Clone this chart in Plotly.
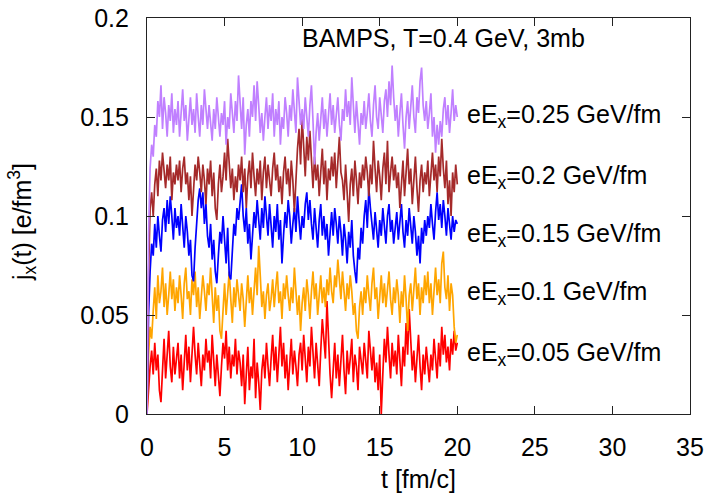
import numpy as np
import plotly.graph_objects as go

# time axis: 0 .. 20 fm/c in 0.1 steps
t = [round(i * 0.1, 1) for i in range(201)]

# values in units of 1e-3 e/fm^3
red = [
    0, 14, 24, 32, 20, 36, 22, 30, 12, 6, 26, 38, 18, 30, 42, 24, 16, 34, 20, 28,
    36, 18, 30, 12, 26, 40, 22, 34, 16, 28, 44, 30, 20, 36, 24, 14, 30, 22, 38, 26,
    32, 18, 40, 26, 14, 30, 20, 9, 24, 36, 28, 42, 22, 34, 18, 30, 24, 38, 20, 32,
    26, 14, 30, 5, 20, 34, 12, 24, 18, 38, 8, 26, 16, 2, 22, 30, 18, 36, 24, 14,
    28, 40, 22, 34, 16, 30, 44, 24, 36, 18, 30, 12, 26, 38, 20, 32, 24, 14, 30, 36,
    22, 40, 28, 16, 34, 24, 44, 30, 18, 36, 26, 14, 32, 48, 38, 28, 57, 34, 20, 8,
    24, 36, 18, 30, 14, 26, 40, 22, 10, 32, 20, 28, 38, 16, 30, 24, 12, 34, 26, 20,
    36, 28, 18, 42, 30, 22, 34, 16, 26, 12, 30, 0, 20, 38, 26, 44, 30, 18, 36, 24,
    32, 20, 40, 28, 14, 34, 24, 46, 30, 53, 38, 22, 32, 16, 28, 40, 24, 12, 30, 20,
    34, 26, 16, 30, 22, 38, 28, 18, 36, 24, 44, 30, 40, 26, 34, 22, 38, 30, 42, 32,
    36,
]
orange = [
    0, 30, 44, 38, 52, 64, 48, 70, 56, 62, 74, 54, 66, 50, 60, 72, 58, 68, 52, 64,
    56, 70, 60, 48, 66, 74, 58, 62, 50, 68, 60, 72, 54, 64, 48, 58, 70, 62, 52, 66,
    60, 74, 56, 46, 64, 52, 60, 42, 38, 56, 66, 50, 62, 72, 58, 46, 64, 54, 68, 60,
    52, 66, 58, 44, 60, 70, 56, 64, 50, 62, 74, 60, 85, 70, 54, 62, 48, 60, 66, 52,
    58, 68, 54, 64, 72, 56, 62, 48, 66, 58, 70, 60, 52, 64, 56, 74, 62, 50, 60, 42,
    56, 64, 52, 68, 60, 48, 62, 72, 58, 66, 50, 62, 70, 56, 64, 54, 68, 60, 74, 62,
    56, 70, 64, 78, 66, 58, 72, 60, 52, 66, 58, 70, 62, 50, 56, 42, 38, 54, 62, 50,
    64, 56, 70, 60, 52, 66, 74, 58, 64, 48, 60, 70, 56, 66, 54, 62, 72, 58, 50, 64,
    56, 68, 60, 46, 62, 54, 70, 58, 42, 60, 66, 52, 62, 74, 58, 66, 50, 64, 56, 70,
    60, 72, 56, 66, 50, 62, 74, 60, 68, 56, 76, 82, 64, 58, 70, 52, 66, 60, 44, 36,
    40,
]
blue = [
    0, 50, 72, 86, 80, 96, 84, 100, 90, 82, 98, 104, 92, 108, 96, 110, 100, 88, 104, 94,
    100, 90, 106, 96, 84, 100, 92, 80, 88, 70, 67, 84, 98, 108, 114, 104, 112, 96, 106, 90,
    84, 96, 78, 88, 72, 66, 80, 92, 86, 100, 88, 76, 94, 70, 68, 82, 96, 90, 104, 98,
    108, 116, 100, 92, 104, 86, 96, 78, 90, 102, 94, 108, 98, 88, 104, 94, 110, 98, 90, 106,
    96, 84, 100, 92, 106, 88, 98, 76, 90, 102, 94, 108, 100, 86, 96, 104, 92, 110, 98, 88,
    100, 94, 106, 112, 98, 108, 96, 88, 104, 92, 84, 98, 106, 90, 100, 88, 96, 80, 94, 102,
    90, 104, 96, 86, 100, 92, 80, 96, 88, 76, 92, 84, 98, 80, 72, 66, 84, 78, 94, 86,
    100, 108, 94, 114, 104, 96, 88, 102, 92, 84, 98, 90, 104, 94, 86, 100, 106, 92, 98, 86,
    94, 102, 88, 98, 106, 92, 84, 98, 90, 104, 96, 86, 100, 92, 80, 90, 76, 94, 86, 98,
    90, 100, 94, 106, 96, 88, 102, 112, 98, 106, 94, 108, 100, 90, 104, 96, 88, 100, 92, 98,
    96,
]
brown = [
    0, 70, 104, 112, 100, 116, 124, 110, 128, 118, 132, 122, 114, 126, 118, 130, 108, 122, 116, 126,
    118, 128, 112, 124, 130, 116, 122, 108, 120, 100, 114, 126, 118, 130, 122, 112, 126, 118, 106, 124,
    116, 128, 110, 122, 104, 98, 116, 126, 112, 120, 132, 118, 139, 126, 114, 124, 108, 120, 112, 126,
    118, 130, 112, 124, 104, 120, 128, 114, 132, 120, 110, 124, 116, 128, 108, 122, 130, 114, 126, 118,
    110, 124, 132, 118, 126, 112, 120, 106, 122, 130, 116, 124, 110, 128, 118, 102, 120, 134, 144, 126,
    150, 132, 120, 140, 128, 143, 124, 114, 130, 118, 126, 110, 122, 134, 116, 128, 108, 124, 118, 130,
    120, 132, 114, 126, 140, 122, 118, 108, 126, 112, 97, 116, 124, 110, 128, 118, 106, 122, 114, 126,
    118, 130, 122, 110, 126, 116, 138, 124, 112, 128, 120, 108, 124, 132, 116, 138, 112, 122, 130, 118,
    126, 114, 122, 104, 118, 128, 110, 122, 134, 116, 124, 106, 120, 130, 114, 102, 118, 126, 112, 122,
    116, 128, 110, 124, 132, 118, 126, 112, 130, 120, 139, 124, 114, 128, 106, 118, 100, 122, 112, 126,
    116,
]
purple = [
    0, 90, 124, 136, 130, 146, 140, 158, 150, 166, 144, 160, 152, 140, 156, 148, 162, 142, 154, 146,
    158, 140, 152, 164, 148, 156, 138, 150, 160, 146, 154, 142, 162, 150, 140, 156, 146, 164, 152, 144,
    156, 148, 138, 154, 144, 160, 150, 140, 152, 146, 158, 136, 150, 144, 162, 152, 142, 158, 148, 171,
    156, 144, 160, 131, 146, 154, 140, 158, 150, 166, 148, 168, 156, 142, 152, 138, 150, 160, 144, 156,
    148, 162, 140, 154, 146, 158, 136, 150, 144, 160, 152, 140, 156, 148, 164, 150, 142, 170, 158, 146,
    154, 144, 160, 150, 140, 156, 166, 148, 126, 142, 152, 138, 148, 160, 144, 154, 140, 150, 162, 146,
    156, 142, 152, 160, 146, 138, 154, 148, 164, 150, 158, 146, 170, 154, 142, 158, 148, 136, 152, 146,
    158, 144, 152, 162, 148, 140, 156, 166, 150, 144, 160, 152, 142, 158, 164, 150, 168, 156, 176, 160,
    148, 156, 140, 152, 162, 146, 134, 150, 158, 144, 154, 166, 150, 142, 160, 152, 168, 175, 156, 148,
    158, 144, 152, 162, 140, 150, 132, 146, 136, 148, 140, 154, 160, 146, 156, 142, 152, 164, 148, 156,
    150,
]

labels = ["eE<sub>x</sub>=0.05 GeV/fm", "eE<sub>x</sub>=0.1 GeV/fm",
          "eE<sub>x</sub>=0.15 GeV/fm", "eE<sub>x</sub>=0.2 GeV/fm",
          "eE<sub>x</sub>=0.25 GeV/fm"]
label_y = [0.0303, 0.0609, 0.0906, 0.1199, 0.1505]
series = [red, orange, blue, brown, purple]
colors = ["#ff0000", "#ffa500", "#0000ff", "#a52a2a", "#c080ff"]

FONT = "Liberation Sans, Arial, Helvetica, sans-serif"
FS = 25

fig = go.Figure()
for vals, col in zip(series, colors):
    fig.add_trace(go.Scatter(
        x=t, y=[v / 1000.0 for v in vals], mode="lines",
        line=dict(color=col, width=1.7), showlegend=False, hoverinfo="skip"))

for lab, ly in zip(labels, label_y):
    fig.add_annotation(x=20.5, y=ly, xref="x", yref="y", text=lab, showarrow=False,
                       xanchor="left", yanchor="middle",
                       font=dict(family=FONT, size=FS, color="#000000"))

fig.add_annotation(x=19.1, y=0.19, xref="x", yref="y",
                   text="BAMPS, T=0.4 GeV, 3mb", showarrow=False,
                   xanchor="center", yanchor="middle",
                   font=dict(family=FONT, size=FS, color="#000000"))

fig.add_annotation(x=-0.23, y=0.485, xref="paper", yref="paper",
                   text="j<sub>x</sub>(t) [e/fm<sup>3</sup>]", textangle=-90,
                   showarrow=False, xanchor="center", yanchor="middle",
                   font=dict(family=FONT, size=FS, color="#000000"))

axis_common = dict(showline=True, linecolor="#222222", linewidth=1.2, mirror="ticks",
                   ticks="inside", ticklen=8, tickcolor="#222222", tickwidth=1,
                   showgrid=False, zeroline=False, automargin=False,
                   tickfont=dict(family=FONT, size=FS, color="#000000"))

fig.update_xaxes(range=[0, 35], dtick=5, tick0=0, ticklabelstandoff=11,
                 title=dict(text="t [fm/c]", font=dict(family=FONT, size=FS, color="#000000"),
                            standoff=16),
                 **axis_common)
fig.update_yaxes(range=[0, 0.2], dtick=0.05, tick0=0, ticklabelstandoff=12,
                 **axis_common)

fig.update_layout(width=709, height=493,
                  margin=dict(l=147, r=19, t=18, b=79, autoexpand=False),
                  paper_bgcolor="white", plot_bgcolor="white",
                  font=dict(family=FONT, size=FS, color="#000000"))

fig.write_html("out.html")
